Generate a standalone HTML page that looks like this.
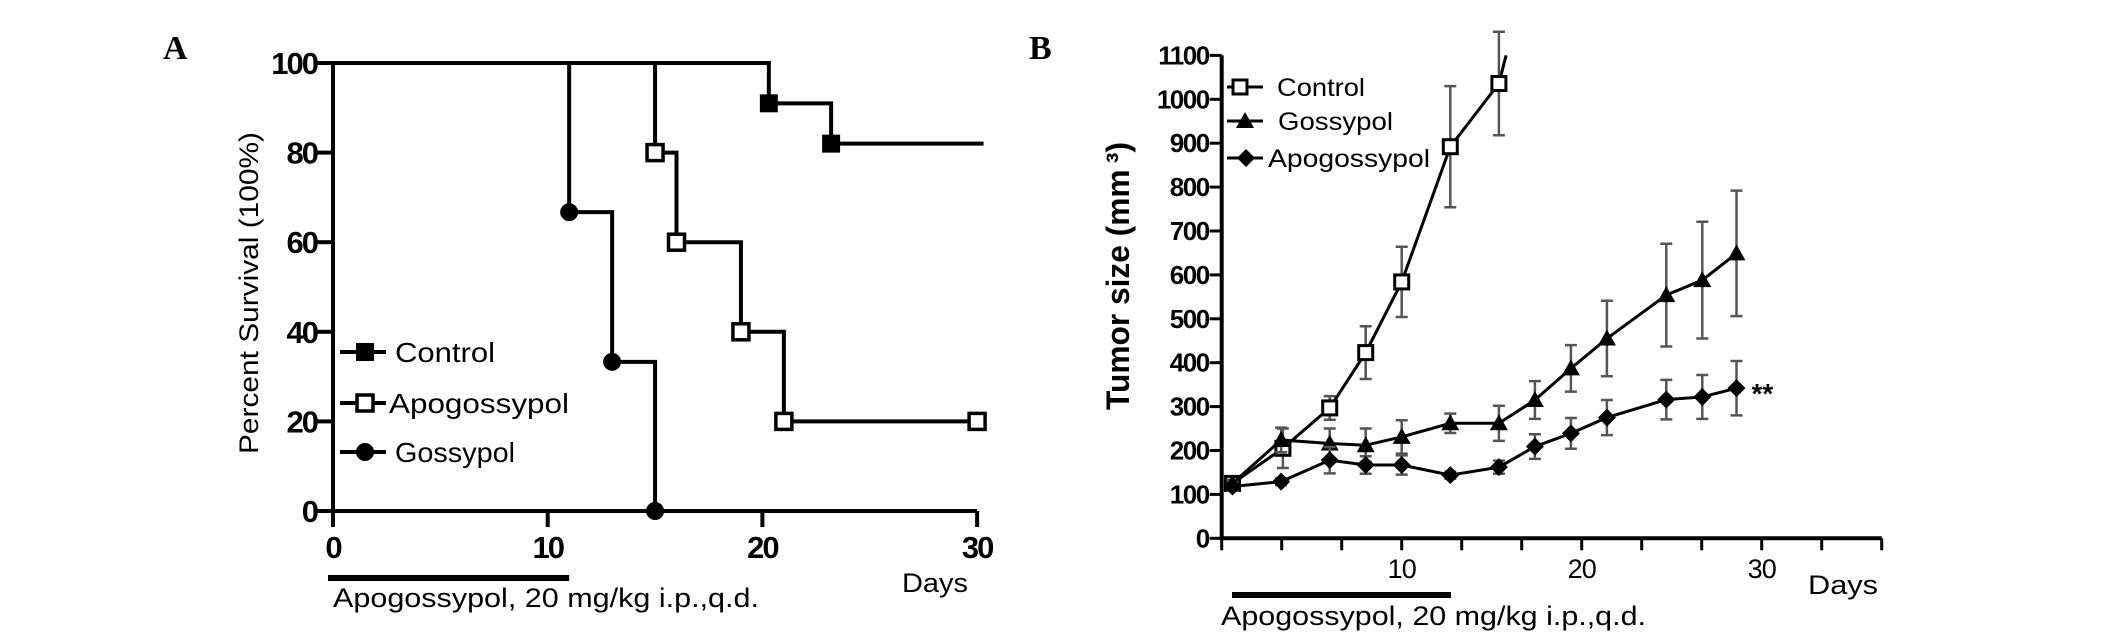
<!DOCTYPE html>
<html><head><meta charset="utf-8"><style>
html,body{margin:0;padding:0;background:#fff}
svg{display:block;font-family:"Liberation Sans",sans-serif}
</style></head><body>
<svg id="fig" width="2126" height="640" viewBox="0 0 2126 640">
<g id="A"></g>
<g id="B"></g>
</svg>
<script>
// ---- Panel A data ----
const aTicksX = [0, 10, 20, 30];
const aTicksY = [0, 20, 40, 60, 80, 100];
const aControlT = [0, 20.3, 23.2, 30.3];
const aControlS = [100, 91, 82, 82];
const aApoT = [0, 15, 16, 19, 21, 30];
const aApoS = [100, 80, 60, 40, 20, 20];
const aGosT = [0, 11, 13, 15];
const aGosS = [100, 66.7, 33.3, 0];
const aControlMarks = [1, 2];
const aApoMarks = [1, 2, 3, 4, 5];
const aGosMarks = [1, 2, 3];

// ---- Panel B data ----
const bTicksY = [0,100,200,300,400,500,600,700,800,900,1000,1100];
const bTickLabelsX = [10, 20, 30];
const bControlDay = [0.6, 3.4, 6.0, 8.0, 10.0, 12.7, 15.4];
const bControlVal = [125, 205, 297, 423, 584, 892, 1036];
const bControlErr = [8, 45, 27, 60, 80, 138, 118];
const bGosDay = [0.6, 3.3, 6.0, 8.0, 10.0, 12.7, 15.4, 17.4, 19.4, 21.4, 24.7, 26.7, 28.6];
const bGosVal = [125, 224, 216, 212, 231, 262, 262, 315, 387, 455, 554, 588, 649];
const bGosErr = [8, 28, 34, 38, 38, 22, 40, 43, 53, 86, 117, 133, 143];
const bApoDay = [0.6, 3.3, 6.0, 8.0, 10.0, 12.7, 15.4, 17.4, 19.4, 21.4, 24.7, 26.7, 28.6];
const bApoVal = [118, 129, 178, 167, 167, 144, 162, 209, 239, 275, 316, 322, 342];
const bApoErr = [10, 8, 30, 20, 22, 8, 15, 28, 35, 40, 45, 50, 62];

const NS = "http://www.w3.org/2000/svg";
function mk(parent, tag, attrs, text) {
  const e = document.createElementNS(NS, tag);
  for (const k in attrs) e.setAttribute(k, attrs[k]);
  if (text !== undefined) e.textContent = text;
  parent.appendChild(e);
  return e;
}

// ===== Panel A =====
const A = document.getElementById('A');
const ax = t => 333 + t * 21.47;
const ay = v => 511 - v * 4.48;
let e;
e = mk(A, 'text', {x:163, y:59, 'font-family':'"Liberation Serif",serif', 'font-weight':'bold', 'font-size':34}, 'A');


e = mk(A, 'path', {d:`M${ax(0)},${ay(100)}V${ay(0)}H${ax(30)}`, stroke:'#000', 'stroke-width':4, fill:'none'});


aTicksY.forEach(v => {
  mk(A, 'line', {x1:ax(0)-16, x2:ax(0), y1:ay(v), y2:ay(v), stroke:'#000', 'stroke-width':4});
  e = mk(A, 'text', {x:ax(0)-16, y:ay(v)+11, 'text-anchor':'end', 'font-weight':'bold', 'font-size':31, 'letter-spacing':-2}, v);
  
  
});
aTicksX.forEach(t => {
  mk(A, 'line', {x1:ax(t), x2:ax(t), y1:ay(0), y2:ay(0)+16, stroke:'#000', 'stroke-width':4});
  e = mk(A, 'text', {x:ax(t), y:558, 'text-anchor':'middle', 'font-weight':'bold', 'font-size':31, 'letter-spacing':-2}, t);
  
  
});
e = mk(A, 'text', {transform:'translate(258,293) rotate(-90)', 'text-anchor':'middle', 'font-size':27, textLength:322, lengthAdjust:'spacingAndGlyphs'}, 'Percent Survival (100%)');


e = mk(A, 'text', {x:902, y:592, 'font-size':27, textLength:66, lengthAdjust:'spacingAndGlyphs'}, 'Days');


e = mk(A, 'rect', {x:328, y:575, width:ax(11)-328, height:6, fill:'#000'});


e = mk(A, 'text', {x:333, y:607, 'font-size':27, textLength:426, lengthAdjust:'spacingAndGlyphs'}, 'Apogossypol, 20 mg/kg i.p.,q.d.');



function stepPath(T, S) {
  let d = `M${ax(T[0])},${ay(S[0])}`;
  for (let i = 1; i < T.length; i++) d += `H${ax(T[i])}V${ay(S[i])}`;
  return d;
}
function markerA(g, kind, x, y) {
  if (kind === 'circle') return mk(g, 'circle', {cx:x, cy:y, r:9, fill:'#000'});
  if (kind === 'filled') return mk(g, 'rect', {x:x-9, y:y-9, width:18, height:18, fill:'#000'});
  return mk(g, 'rect', {x:x-8, y:y-8, width:16, height:16, fill:'#fff', stroke:'#000', 'stroke-width':3.5});
}
[['control', aControlT, aControlS, aControlMarks, 'filled'],
 ['apogossypol', aApoT, aApoS, aApoMarks, 'open'],
 ['gossypol', aGosT, aGosS, aGosMarks, 'circle']].forEach(([nm, T, S, M, kind]) => {
  const g = mk(A, 'g', {});
  
  
  mk(g, 'path', {d:stepPath(T, S), stroke:'#000', 'stroke-width':4, fill:'none'});
  M.forEach(i => {
    const m = markerA(g, kind, ax(T[i]), ay(S[i]));
    
    
  });
});
[['Control', 352, 'filled', 395, 100], ['Apogossypol', 403, 'open', 389, 180], ['Gossypol', 452, 'circle', 395, 120]].forEach(([lab, y, kind, tx, tw]) => {
  const g = mk(A, 'g', {});
  
  
  mk(g, 'line', {x1:340, x2:386, y1:y, y2:y, stroke:'#000', 'stroke-width':4});
  markerA(g, kind, 365, y);
  mk(g, 'text', {x:tx, y:y+10, 'font-size':28, textLength:tw, lengthAdjust:'spacingAndGlyphs'}, lab);
});

// ===== Panel B =====
const B = document.getElementById('B');
const bx = d => 1221.7 + d * 18;
const by = v => 538.3 - v * 0.439;
e = mk(B, 'text', {x:1029, y:59, 'font-family':'"Liberation Serif",serif', 'font-weight':'bold', 'font-size':34}, 'B');


e = mk(B, 'path', {d:`M${bx(0)},${by(1100)}V${by(0)}H${bx(110/3)}`, stroke:'#000', 'stroke-width':4, fill:'none'});


bTicksY.forEach(v => {
  mk(B, 'line', {x1:bx(0)-12, x2:bx(0), y1:by(v), y2:by(v), stroke:'#000', 'stroke-width':3});
  e = mk(B, 'text', {x:bx(0)-13, y:by(v)+9, 'text-anchor':'end', 'font-weight':'bold', 'font-size':26, 'letter-spacing':-1.5}, v);
  
  
});
for (let i = 0; i <= 11; i++) {
  mk(B, 'line', {x1:bx(i*10/3), x2:bx(i*10/3), y1:by(0), y2:by(0)+12, stroke:'#000', 'stroke-width':3});
}
bTickLabelsX.forEach(t => {
  e = mk(B, 'text', {x:bx(t), y:578, 'text-anchor':'middle', 'font-size':27, 'letter-spacing':-1}, t);
  
  
});
e = mk(B, 'text', {transform:'translate(1129,276) rotate(-90)', 'text-anchor':'middle', 'font-weight':'bold', 'font-size':32, textLength:268, lengthAdjust:'spacingAndGlyphs'}, 'Tumor size (mm\u2009\u00B3)');


e = mk(B, 'text', {x:1808, y:594, 'font-size':27, textLength:70, lengthAdjust:'spacingAndGlyphs'}, 'Days');


e = mk(B, 'rect', {x:1232, y:592, width:219, height:6, fill:'#000'});


e = mk(B, 'text', {x:1221, y:625, 'font-size':27, textLength:425, lengthAdjust:'spacingAndGlyphs'}, 'Apogossypol, 20 mg/kg i.p.,q.d.');



function markerB(g, kind, x, y) {
  if (kind === 'square') return mk(g, 'rect', {x:x-7, y:y-7, width:14, height:14, fill:'#fff', stroke:'#000', 'stroke-width':3});
  if (kind === 'tri') return mk(g, 'path', {d:`M${x},${y-9}L${x+9},${y+7}L${x-9},${y+7}Z`, fill:'#000'});
  return mk(g, 'path', {d:`M${x},${y-9}L${x+9},${y}L${x},${y+9}L${x-9},${y}Z`, fill:'#000'});
}
function seriesB(nm, D, V, E, kind, extra) {
  const g = mk(B, 'g', {});
  
  
  D.forEach((d, i) => {
    const x = bx(d), y1 = by(V[i] + E[i]), y2 = by(V[i] - E[i]);
    const eb = mk(g, 'path', {d:`M${x},${y1}V${y2}M${x-6},${y1}H${x+6}M${x-6},${y2}H${x+6}`, stroke:'#555', 'stroke-width':2.5, fill:'none'});
    
    
  });
  let d = D.map((v, i) => (i ? 'L' : 'M') + bx(v) + ',' + by(V[i])).join('');
  if (extra) d += `L${bx(extra[0])},${by(extra[1])}`;
  mk(g, 'path', {d, stroke:'#000', 'stroke-width':3, fill:'none'});
  D.forEach((v, i) => {
    const m = markerB(g, kind, bx(v), by(V[i]));
    
    
  });
}
seriesB('control', bControlDay, bControlVal, bControlErr, 'square', [15.8, 1100]);
seriesB('gossypol', bGosDay, bGosVal, bGosErr, 'tri');
seriesB('apogossypol', bApoDay, bApoVal, bApoErr, 'diamond');
e = mk(B, 'text', {x:bx(bApoDay[bApoDay.length-1]) + 15, y:by(bApoVal[bApoVal.length-1]) + 15, 'font-weight':'bold', 'font-size':28}, '**');


[['Control', 87, 'square', 1240, 1277, 88], ['Gossypol', 121, 'tri', 1245, 1278, 115], ['Apogossypol', 158, 'diamond', 1246, 1268, 162]].forEach(([lab, y, kind, mx, tx, tw]) => {
  const g = mk(B, 'g', {});
  
  
  mk(g, 'line', {x1:1227, x2:1263, y1:y, y2:y, stroke:'#000', 'stroke-width':3});
  markerB(g, kind, mx, y);
  mk(g, 'text', {x:tx, y:y+9, 'font-size':25, textLength:tw, lengthAdjust:'spacingAndGlyphs'}, lab);
});
</script>
</body></html>
